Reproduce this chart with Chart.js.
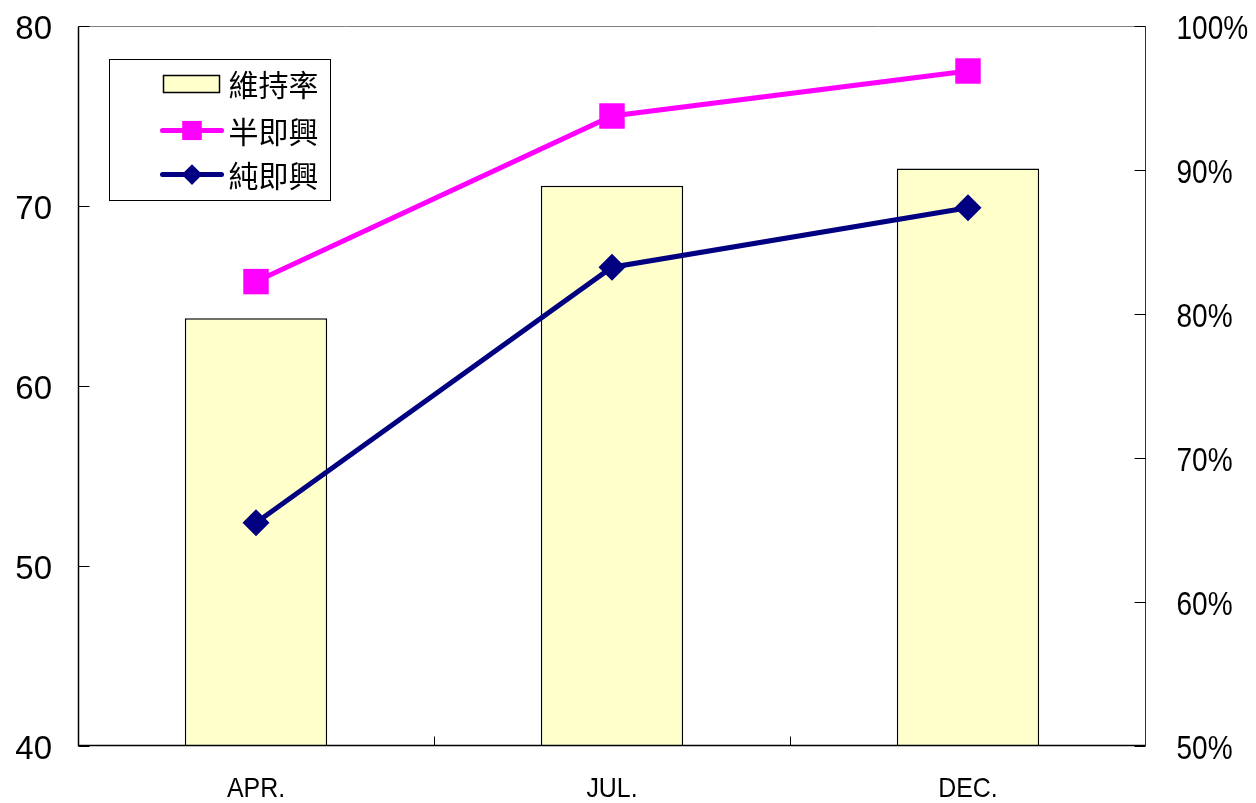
<!DOCTYPE html>
<html>
<head>
<meta charset="utf-8">
<script src="https://cdn.jsdelivr.net/npm/chart.js@4/dist/chart.umd.min.js"></script>
<style>
  html, body { margin: 0; padding: 0; background: #fff; }
</style>
</head>
<body>
<canvas id="chart" width="1256" height="803"></canvas>
<script>
  // Data
  const months = ['APR.', 'JUL.', 'DEC.'];
  const retentionPct = [79.7, 88.9, 90.1];   // 維持率, right axis (%)
  const semiImprov = [65.8, 75.0, 77.5];     // 半即興, left axis
  const pureImprov = [52.4, 66.6, 69.9];     // 純即興, left axis
  const leftRange = [40, 80, 10];
  const rightRange = [50, 100, 10];

  const FRAME_GRAY = '#808080';
  const TICK_LEN = 11;
  const LABEL_FONT = '"Liberation Sans", Arial, sans-serif';

  // text squeezed horizontally (narrow axis font)
  function drawNarrow(ctx, text, x, y, sx, align, baseline) {
    ctx.save();
    ctx.translate(x, y);
    ctx.scale(sx, 1);
    ctx.textAlign = align;
    ctx.textBaseline = baseline;
    ctx.fillText(text, 0, 0);
    ctx.restore();
  }

  // Plot frame with inward tick marks, plus right and bottom labels
  const framePlugin = {
    id: 'frame',
    afterDatasetsDraw(chart) {
      const { ctx, chartArea } = chart;
      const l = Math.round(chartArea.left) + 0.5;
      const r = Math.round(chartArea.right) - 0.5;
      const t = Math.round(chartArea.top) + 0.5;
      const b = Math.round(chartArea.bottom) - 0.5;
      ctx.save();
      ctx.lineWidth = 1;
      ctx.strokeStyle = FRAME_GRAY;
      ctx.beginPath();
      ctx.moveTo(l, t); ctx.lineTo(r, t);
      ctx.stroke();

      ctx.strokeStyle = '#333';
      ctx.beginPath();
      ctx.moveTo(r, t); ctx.lineTo(r, b);
      ctx.stroke();

      ctx.strokeStyle = '#000';
      ctx.lineWidth = 1.5;
      ctx.beginPath();
      ctx.moveTo(l, t); ctx.lineTo(l, b); ctx.lineTo(r, b);
      ctx.stroke();

      ctx.lineWidth = 1;
      ctx.strokeStyle = '#000';
      ctx.beginPath();
      chart.scales.y.ticks.forEach(tk => {
        const yy = Math.round(chart.scales.y.getPixelForValue(tk.value)) + 0.5;
        ctx.moveTo(l, yy); ctx.lineTo(l + TICK_LEN, yy);
      });
      chart.scales.y2.ticks.forEach(tk => {
        const yy = Math.round(chart.scales.y2.getPixelForValue(tk.value)) + 0.5;
        ctx.moveTo(r, yy); ctx.lineTo(r - TICK_LEN, yy);
      });
      const xs = chart.scales.x;
      for (let i = 0; i < months.length - 1; i++) {
        const xx = Math.round((xs.getPixelForTick(i) + xs.getPixelForTick(i + 1)) / 2) + 0.5;
        ctx.moveTo(xx, b); ctx.lineTo(xx, b - 9);
      }
      ctx.stroke();

      // right axis labels
      ctx.fillStyle = '#000';
      ctx.font = '33px ' + LABEL_FONT;
      chart.scales.y2.ticks.forEach(tk => {
        const yy = chart.scales.y2.getPixelForValue(tk.value);
        drawNarrow(ctx, tk.value + '%', r + 31, yy + 4, 0.85, 'left', 'middle');
      });
      // category labels
      ctx.font = '28px ' + LABEL_FONT;
      months.forEach((m, i) => {
        drawNarrow(ctx, m, xs.getPixelForTick(i), b + 51, 0.89, 'center', 'alphabetic');
      });
      ctx.restore();
    }
  };

  // Boxed legend inside the plot area
  const boxLegend = {
    id: 'boxLegend',
    afterDraw(chart) {
      const { ctx, chartArea } = chart;
      const x0 = Math.round(chartArea.left) + 31.5;
      const y0 = Math.round(chartArea.top) + 33.5;
      const w = 221, h = 141;
      ctx.save();
      ctx.fillStyle = '#fff';
      ctx.fillRect(x0, y0, w, h);
      ctx.strokeStyle = '#000';
      ctx.lineWidth = 1;
      ctx.strokeRect(x0, y0, w, h);

      const rows = [24, 71, 115];
      const sx = x0 + 53, sw = 59;
      chart.data.datasets.forEach((ds, k) => {
        const cy = y0 + rows[k];
        if (ds.type === 'line') {
          ctx.strokeStyle = ds.borderColor;
          ctx.lineWidth = ds.borderWidth;
          ctx.lineCap = 'round';
          ctx.beginPath();
          ctx.moveTo(sx, cy); ctx.lineTo(sx + sw, cy);
          ctx.stroke();
          ctx.fillStyle = ds.backgroundColor;
          Chart.helpers.drawPoint(ctx, {
            pointStyle: ds.pointStyle, radius: ds.pointRadius * 0.75,
            borderWidth: 0, rotation: 0
          }, sx + sw / 2, cy);
          ctx.fill();
        } else {
          ctx.fillStyle = ds.backgroundColor;
          ctx.fillRect(sx + 1, cy - 8, sw - 3, 17);
          ctx.strokeStyle = '#000';
          ctx.lineWidth = 1.5;
          ctx.strokeRect(sx + 1, cy - 8, sw - 3, 17);
        }
        ctx.fillStyle = '#000';
        ctx.font = '30px "Noto Sans CJK TC"';
        ctx.textBaseline = 'middle';
        ctx.textAlign = 'left';
        ctx.fillText(ds.label, sx + sw + 7, cy + 1);
      });
      ctx.restore();
    }
  };

  new Chart(document.getElementById('chart'), {
    type: 'bar',
    data: {
      labels: months,
      datasets: [
        {
          label: '維持率',
          data: retentionPct,
          yAxisID: 'y2',
          backgroundColor: '#FFFFCC',
          borderColor: '#000',
          borderWidth: 1.5,
          barPercentage: 0.4,
          categoryPercentage: 1,
          order: 3
        },
        {
          type: 'line',
          label: '半即興',
          data: semiImprov,
          yAxisID: 'y',
          borderColor: '#FF00FF',
          backgroundColor: '#FF00FF',
          borderWidth: 5,
          pointStyle: 'rect',
          pointRadius: 18,
          pointBorderWidth: 0,
          tension: 0,
          clip: false,
          order: 1
        },
        {
          type: 'line',
          label: '純即興',
          data: pureImprov,
          yAxisID: 'y',
          borderColor: '#000080',
          backgroundColor: '#000080',
          borderWidth: 5,
          pointStyle: 'rectRot',
          pointRadius: 13.5,
          pointBorderWidth: 0,
          tension: 0,
          clip: false,
          order: 2
        }
      ]
    },
    options: {
      responsive: false,
      animation: false,
      layout: { padding: { top: 26, left: 0, right: 0, bottom: 0 } },
      plugins: { legend: { display: false }, tooltip: { enabled: false } },
      scales: {
        x: {
          grid: { display: false, drawTicks: false },
          border: { display: false },
          ticks: { display: false },
          afterFit(s) { s.height = 57; s.paddingLeft = 0; s.paddingRight = 0; }
        },
        y: {
          position: 'left',
          min: leftRange[0], max: leftRange[1],
          grid: { display: false, drawTicks: false },
          border: { display: false },
          ticks: {
            stepSize: leftRange[2],
            color: '#000',
            padding: 26,
            labelOffset: 4,
            font: { family: LABEL_FONT, size: 33 }
          },
          afterFit(s) { s.width = 78; s.paddingTop = 0; s.paddingBottom = 0; }
        },
        y2: {
          position: 'right',
          min: rightRange[0], max: rightRange[1],
          grid: { display: false, drawTicks: false },
          border: { display: false },
          ticks: { display: false, stepSize: rightRange[2] },
          afterFit(s) { s.width = 110; s.paddingTop = 0; s.paddingBottom = 0; }
        }
      }
    },
    plugins: [framePlugin, boxLegend]
  });
</script>
</body>
</html>
